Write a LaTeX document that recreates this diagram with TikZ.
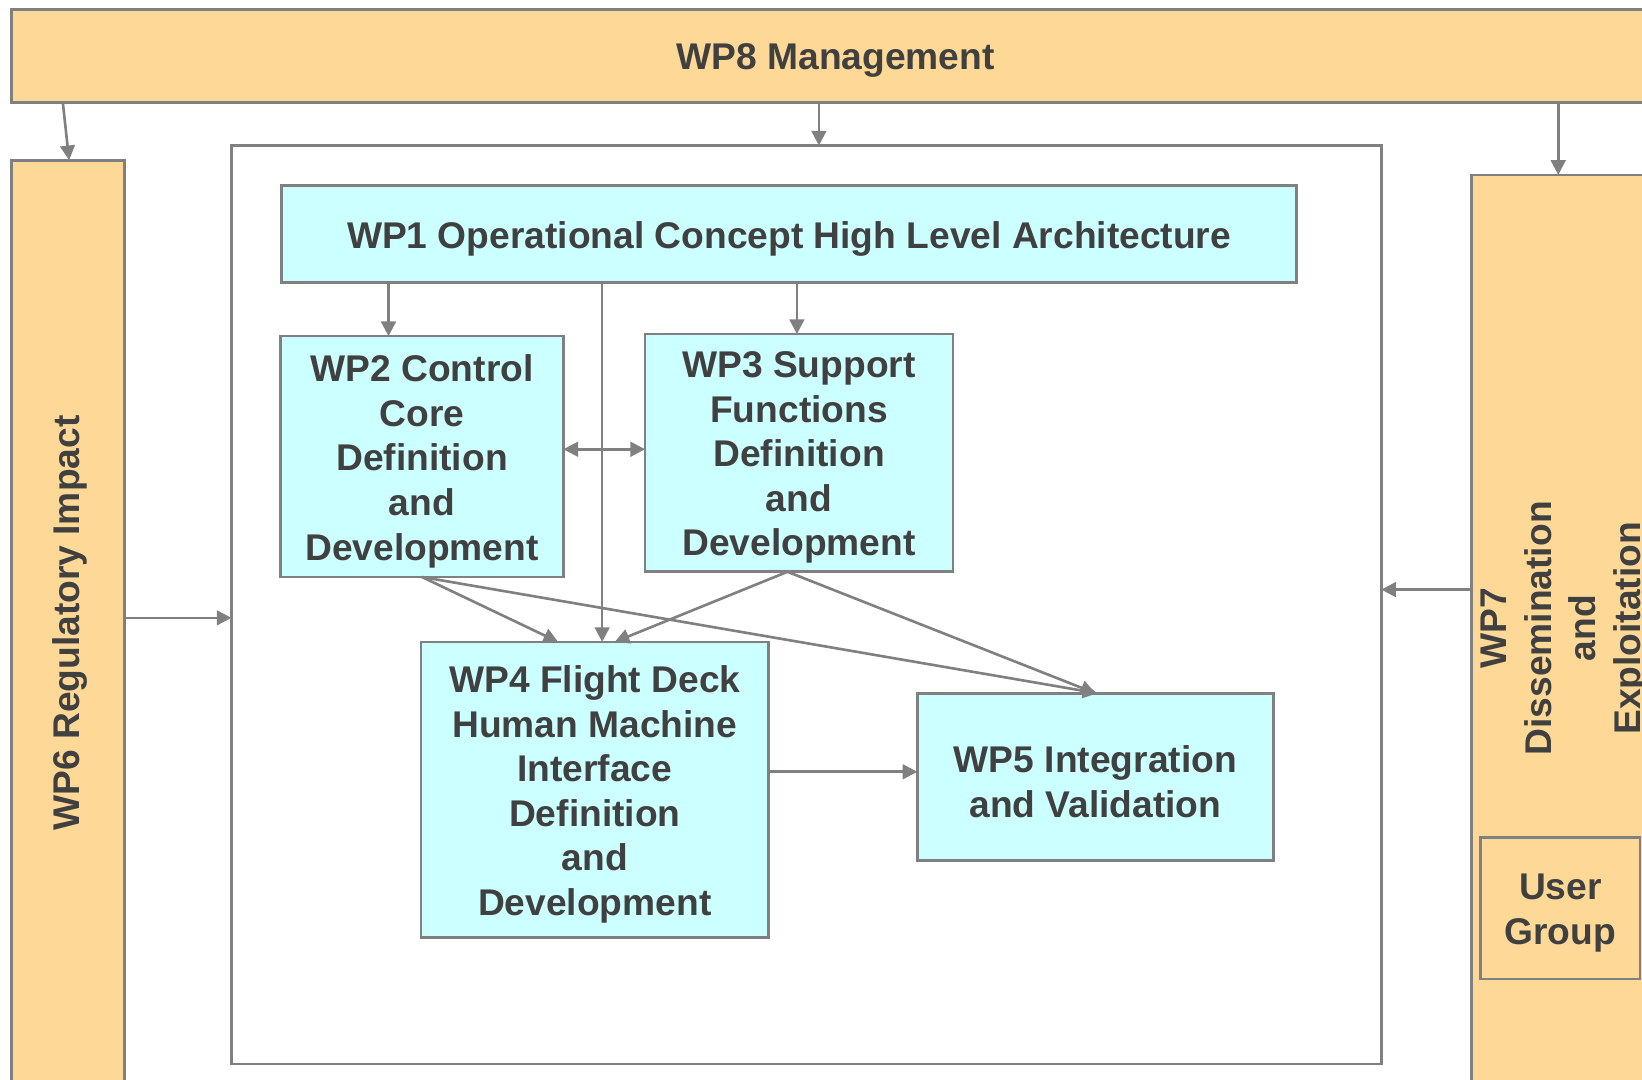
\documentclass[tikz,border=0pt]{standalone}
\usepackage{fontspec}
\setmainfont{Liberation Sans}
\usetikzlibrary{arrows.meta}
\definecolor{ora}{HTML}{FDD896}
\definecolor{cya}{HTML}{CCFFFF}
\definecolor{brd}{HTML}{808080}
\definecolor{txtc}{HTML}{404040}
\newcommand\wptext{\fontsize{35.5}{42.6}\selectfont\bfseries}
\begin{document}
\begin{tikzpicture}[x=1pt,y=-1pt,
 box/.style={draw=brd,line width=2.5pt,inner sep=0pt,outer sep=0pt},
 obox/.style={box,fill=ora},
 cbox/.style={box,fill=cya},
 lbl/.style={text=txtc,font=\wptext,align=center,inner sep=0pt},
 inlbl/.style={lbl,yshift=-4.5pt},
 arr/.style={draw=brd,line width=2.5pt,-{Triangle[length=14pt,width=14pt]}},
 darr/.style={draw=brd,line width=2.5pt,{Triangle[length=14pt,width=14pt]}-{Triangle[length=14pt,width=14pt]}},
]
\fill[white] (0,0) rectangle (1568,1030.4);
\useasboundingbox (0,0) rectangle (1568,1030.4);
% outer work packages
\node[obox,minimum width=1689,minimum height=89] (wp8) at (855.5,53.5) {};
\node[lbl] (wp8t) at (798,58) {WP8 Management};
\node[obox,minimum width=108,minimum height=947] (wp6) at (65,626.5) {};
\node[lbl,rotate=90] (wp6t) at (67,595) {WP6 Regulatory Impact};
\node[box,fill=white,minimum width=1098,minimum height=877] (cont) at (770,577.5) {};
\node[obox,minimum width=295,minimum height=933] (wp7) at (1552.5,633.5) {};
\node[lbl,rotate=90] (wp7t) at (1494,600) {WP7\\Dissemination\\and\\Exploitation};
\node[box,minimum width=152,minimum height=135,label={[inlbl]center:User\\Group}] (ug) at (1490,867.5) {};
% inner work packages
\node[cbox,minimum width=969,minimum height=93,label={[inlbl]center:WP1 Operational Concept High Level Architecture}] (wp1) at (753.5,223.5) {};
\node[cbox,minimum width=270,minimum height=230,label={[inlbl]center:WP2 Control\\Core\\Definition\\and\\Development}] (wp2) at (403,436) {};
\node[cbox,minimum width=294,minimum height=227,label={[inlbl]center:WP3 Support\\Functions\\Definition\\and\\Development}] (wp3) at (763,432.5) {};
\node[cbox,minimum width=332,minimum height=282,label={[inlbl]center:WP4 Flight Deck\\Human Machine\\Interface\\Definition\\and\\Development}] (wp4) at (568,754) {};
\node[cbox,minimum width=340,minimum height=160,label={[inlbl]center:WP5 Integration\\and Validation}] (wp5) at (1046,742) {};
% helper coordinates
\coordinate (c6) at ([xshift=-2]wp6.north);
\coordinate (c8) at ([xshift=12]cont.north);
\coordinate (c7) at ([xshift=-64.5]wp7.north);
\coordinate (c6b) at ([yshift=-12.5]cont.west);
\coordinate (c7b) at ([yshift=14.5]cont.east);
\coordinate (a2) at ([xshift=-32]wp2.north);
\coordinate (a3) at ([xshift=-2]wp3.north);
\coordinate (a4) at ([xshift=7]wp4.north);
\coordinate (a23) at ([yshift=7]wp2.east);
\coordinate (a45) at ([yshift=17]wp4.east);
% connectors
\draw[arr] ([xshift=-3]c6 |- wp8.south) -- ([xshift=1]wp6.north);
\draw[arr] (c8 |- wp8.south) -- (c8);
\draw[arr] (c7 |- wp8.south) -- (c7);
\draw[arr] (c6b -| wp6.east) -- (c6b);
\draw[arr] (c7b -| wp7.west) -- (c7b);
\draw[arr] (a2 |- wp1.south) -- (a2);
\draw[arr] (a3 |- wp1.south) -- (a3);
\draw[arr] (a4 |- wp1.south) -- (a4);
\draw[darr] (a23) -- (a23 -| wp3.west);
\draw[arr] (wp2.south) -- ([xshift=-35]wp4.north);
\draw[arr] (wp2.south) -- ([xshift=2]wp5.north);
\draw[arr] ([xshift=-11]wp3.south) -- ([xshift=19]wp4.north);
\draw[arr] ([xshift=-11]wp3.south) -- (wp5.north);
\draw[arr] (a45) -- (a45 -| wp5.west);
\end{tikzpicture}
\end{document}
